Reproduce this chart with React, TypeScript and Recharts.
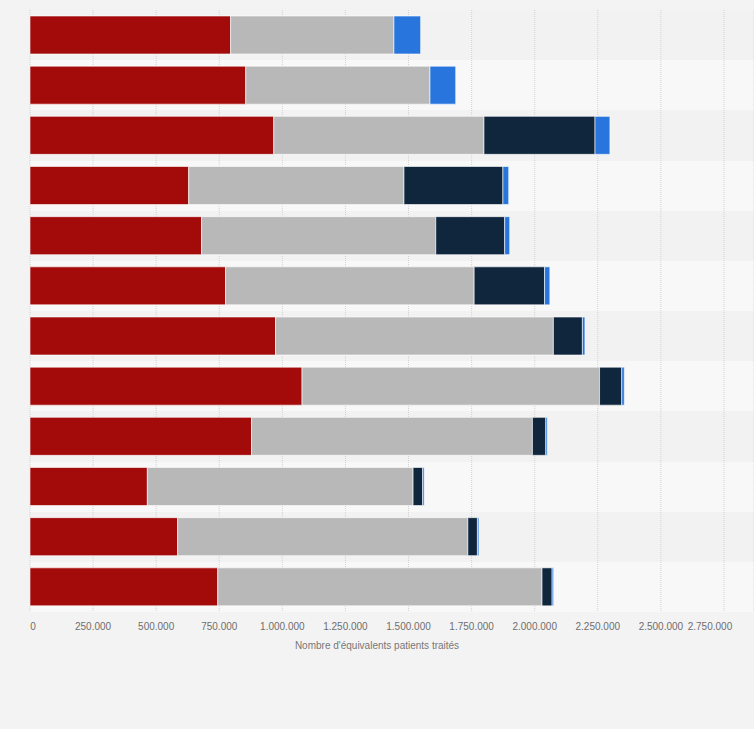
import React from 'react';
import { BarChart, Bar, XAxis, YAxis, CartesianGrid } from 'recharts';

// rangées de haut en bas
const categories = ['2008', '2009', '2010', '2011', '2012', '2013', '2014', '2015', '2016', '2017', '2018', '2019'];
const serieRouge = [795000, 855000, 966000, 629000, 680000, 775000, 973000, 1078000, 878000, 465000, 585000, 744000];
const serieGrise = [647000, 730000, 833000, 853000, 928000, 985000, 1101000, 1179000, 1113000, 1053000, 1150000, 1285000];
const serieMarine = [0, 0, 440000, 392000, 273000, 279000, 115000, 88000, 53000, 38000, 38000, 40000];
const serieBleue = [106000, 102000, 59000, 23000, 20000, 21000, 10000, 10000, 6000, 6000, 6000, 6000];
const xTicks = [0, 250000, 500000, 750000, 1000000, 1250000, 1500000, 1750000, 2000000, 2250000, 2500000, 2750000];

const data = categories.map((c, i) => ({
  annee: c,
  rouge: serieRouge[i],
  grise: serieGrise[i],
  marine: serieMarine[i],
  bleue: serieBleue[i],
}));

const fmt = (v: number) => v.toLocaleString('de-DE');
const font = '"Liberation Sans", Arial, sans-serif';

const XTick = (props: any) => {
  const { x, y, payload } = props;
  const last = payload.value === xTicks[xTicks.length - 1];
  const first = payload.value === xTicks[0];
  return (
    <text
      x={x}
      y={y}
      dy="0.71em"
      dx={last ? -14 : first ? 3 : 0}
      textAnchor="middle"
      fill="#6e6e6e"
      fontSize={10}
      fontFamily={font}
    >
      {fmt(payload.value)}
    </text>
  );
};

export default function App() {
  const barProps = { stackId: 'a', stroke: '#ffffff', strokeOpacity: 0.6, strokeWidth: 1, isAnimationActive: false };
  return (
    <div style={{ position: 'absolute', left: 0, top: 0, width: 754, height: 729, background: '#f3f3f3' }}>
      <BarChart
        width={754}
        height={729}
        data={data}
        layout="vertical"
        margin={{ top: 10, right: 0, bottom: 77, left: 30 }}
        barSize={38}
      >
        <CartesianGrid
          horizontal
          vertical={false}
          stroke="transparent"
          horizontalFill={['#f2f2f2', '#f8f8f8']}
          horizontalCoordinatesGenerator={({ offset }: any) =>
            categories.map((_, i) => offset.top + (i * offset.height) / categories.length)
          }
        />
        <CartesianGrid horizontal={false} vertical stroke="#d2d2d2" strokeDasharray="1 1" />
        <XAxis
          type="number"
          domain={[0, 2869000]}
          ticks={xTicks}
          interval={0}
          axisLine={false}
          tickLine={false}
          tickMargin={5}
          height={40}
          tick={<XTick />}
          label={{
            value: "Nombre d'équivalents patients traités",
            position: 'insideBottom',
            offset: 3,
            dx: -15,
            fill: '#777',
            fontSize: 10,
            fontFamily: font,
          }}
        />
        <YAxis type="category" dataKey="annee" width={0} tick={false} tickLine={false} axisLine={{ stroke: '#555' }} />
        <Bar dataKey="rouge" fill="#a30a0a" {...barProps} />
        <Bar dataKey="grise" fill="#b8b8b8" {...barProps} />
        <Bar dataKey="marine" fill="#0f263d" {...barProps} />
        <Bar dataKey="bleue" fill="#2876dd" {...barProps} />
      </BarChart>
    </div>
  );
}
